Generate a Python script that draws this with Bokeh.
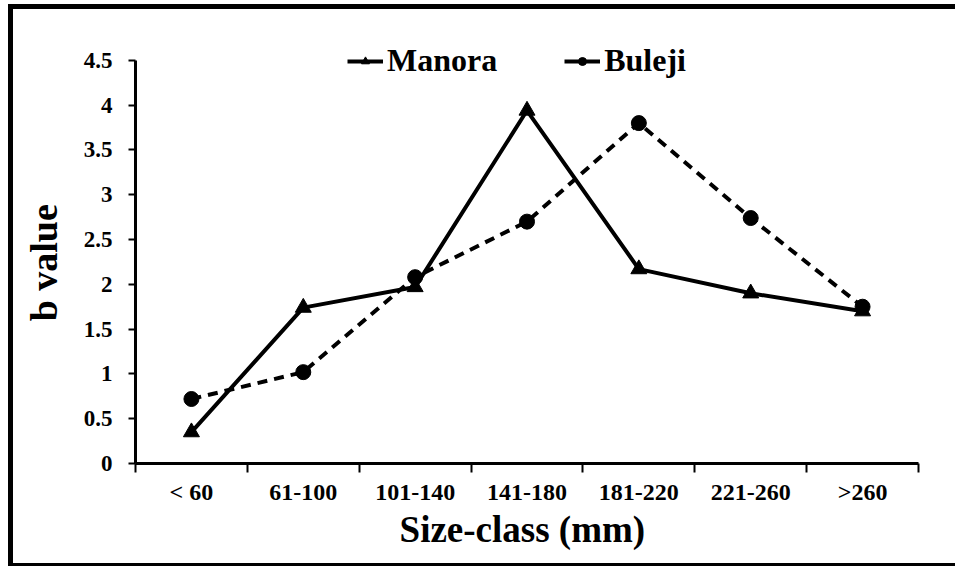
from bokeh.plotting import figure
from bokeh.models import FixedTicker, Range1d, Legend, LegendItem
from bokeh.embed import file_html
from bokeh.resources import INLINE

categories = ["< 60", "61-100", "101-140", "141-180", "181-220", "221-260", ">260"]
manora = [0.35, 1.74, 1.97, 3.94, 2.17, 1.90, 1.70]
buleji = [0.72, 1.02, 2.08, 2.70, 3.80, 2.74, 1.75]
y_ticks = [0, 0.5, 1, 1.5, 2, 2.5, 3, 3.5, 4, 4.5]
y_tick_labels = ["0", "0.5", "1", "1.5", "2", "2.5", "3", "3.5", "4", "4.5"]

FONT = "Liberation Serif"

x_centers = [i + 0.5 for i in range(len(categories))]
x_bounds = list(range(len(categories) + 1))

p = figure(width=955, height=566, output_backend="svg", toolbar_location=None,
           x_range=Range1d(0, len(categories)), y_range=Range1d(0, 4.8),
           min_border_left=135, min_border_top=33, min_border_bottom=103, min_border_right=37)
# picture frame: left, top and bottom edges (inset shadows, no layout change)
p.styles = {"box-shadow": ("inset 8px 0 0 0 white, inset 0 4px 0 0 white, "
                           "inset 13px 0 0 0 black, inset 0 9px 0 0 black, "
                           "inset 0 -3px 0 0 black")}

p.grid.visible = False
p.outline_line_color = None
p.background_fill_color = None
p.border_fill_color = None

# x axis
xa = p.xaxis[0]
xa.ticker = FixedTicker(ticks=x_centers, minor_ticks=x_bounds)
xa.major_label_overrides = {c: lab for c, lab in zip(x_centers, categories)}
xa.major_tick_out = 0
xa.major_tick_in = 0
xa.minor_tick_out = 9
xa.minor_tick_in = 0
xa.minor_tick_line_width = 2
xa.minor_tick_line_color = "black"
xa.axis_line_width = 3
xa.axis_line_color = "black"
xa.major_label_text_font = FONT
xa.major_label_text_font_style = "bold"
xa.major_label_text_font_size = "24px"
xa.major_label_text_color = "black"
xa.major_label_standoff = 6
xa.axis_label = "Size-class  (mm)"
xa.axis_label_text_font = FONT
xa.axis_label_text_font_style = "bold"
xa.axis_label_text_font_size = "37px"
xa.axis_label_text_color = "black"
xa.axis_label_standoff = 1

# y axis
ya = p.yaxis[0]
ya.bounds = (0, 4.5)
ya.ticker = FixedTicker(ticks=y_ticks, minor_ticks=[])
ya.major_label_overrides = {t: lab for t, lab in zip(y_ticks, y_tick_labels)}
ya.major_tick_out = 7
ya.major_tick_in = 0
ya.major_tick_line_width = 2
ya.major_tick_line_color = "black"
ya.axis_line_width = 3
ya.axis_line_color = "black"
ya.major_label_text_font = FONT
ya.major_label_text_font_style = "bold"
ya.major_label_text_font_size = "23px"
ya.major_label_text_color = "black"
ya.major_label_standoff = 16
ya.axis_label = "b value\u00a0\u00a0\u00a0"
ya.axis_label_text_font = FONT
ya.axis_label_text_font_style = "bold"
ya.axis_label_text_font_size = "38px"
ya.axis_label_text_color = "black"
ya.axis_label_standoff = 16

l1 = p.line(x_centers, manora, line_color="black", line_width=4)
s1 = p.scatter(x_centers, manora, marker="triangle", size=16, fill_color="black", line_color="black")
l2 = p.line(x_centers, buleji, line_color="black", line_width=4, line_dash="10 7")
s2 = p.scatter(x_centers, buleji, marker="circle", size=15, fill_color="black", line_color="black")
# solid key line for the Buleji legend entry (single point: draws nothing in the plot)
l2_key = p.line(x_centers[:1], buleji[:1], line_color="black", line_width=4)

legend = Legend(items=[LegendItem(label="Manora", renderers=[l1, s1]),
                       LegendItem(label="Buleji", renderers=[l2_key, s2])],
                orientation="horizontal", location=(212, 384),
                padding=0, margin=0, spacing=67,
                glyph_width=36, glyph_height=20, label_standoff=4,
                label_text_font=FONT, label_text_font_style="bold",
                label_text_font_size="32px", label_text_color="black",
                background_fill_alpha=0, border_line_alpha=0)
p.add_layout(legend, "center")

open("out.html", "w").write(file_html(p, INLINE))
